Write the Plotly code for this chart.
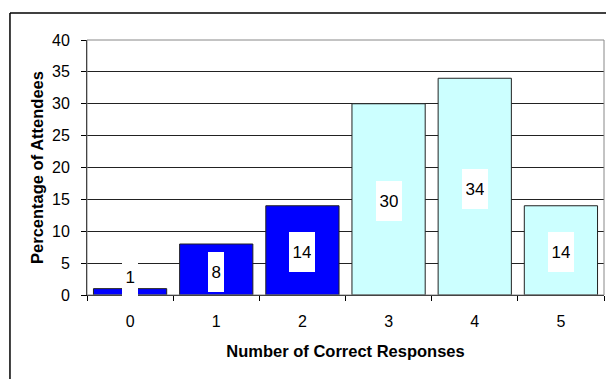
import plotly.graph_objects as go

categories = ["0", "1", "2", "3", "4", "5"]
values = [1, 8, 14, 30, 34, 14]
bar_colors = ["#0000FF", "#0000FF", "#0000FF", "#CCFFFF", "#CCFFFF", "#CCFFFF"]
y_ticks = [0, 5, 10, 15, 20, 25, 30, 35, 40]

FONT = "Liberation Sans, Arial, sans-serif"

fig = go.Figure()
fig.add_trace(go.Bar(
    x=categories, y=values,
    marker=dict(color=bar_colors, line=dict(color="#222222", width=1)),
    hoverinfo="skip",
))

annotations = []
for c, v in zip(categories, values):
    annotations.append(dict(
        x=c, y=max(v / 2, 3.2), xref="x", yref="y", yshift=-2,
        text=str(v), showarrow=False,
        font=dict(family=FONT, size=17, color="black"),
        bgcolor="white", borderpad=3.5, borderwidth=0, height=33,
    ))

shapes = [
    # plot area border (gray top/right)
    dict(type="rect", xref="paper", yref="paper", x0=0, x1=1, y0=0, y1=1,
         line=dict(color="#888888", width=1), layer="above"),
    # outer chart border
    dict(type="line", xref="paper", yref="paper", x0=-0.149, x1=1.2, y0=1.106, y1=1.106,
         line=dict(color="black", width=1.5), layer="above"),
    dict(type="line", xref="paper", yref="paper", x0=-0.149, x1=-0.149, y0=1.106, y1=-0.6,
         line=dict(color="black", width=1.5), layer="above"),
]

fig.update_layout(
    width=606, height=379,
    margin=dict(l=87, r=2, t=40, b=84, autoexpand=False),
    paper_bgcolor="white", plot_bgcolor="white",
    showlegend=False, bargap=0.15,
    font=dict(family=FONT, color="black"),
    annotations=annotations, shapes=shapes,
    xaxis=dict(
        type="category", categoryorder="array", categoryarray=categories,
        showgrid=False, showline=True, linecolor="black", linewidth=1,
        ticks="outside", tickson="boundaries", ticklen=5, tickcolor="black",
        tickfont=dict(size=16, family=FONT), ticklabelstandoff=12,
        title=dict(text="<b>Number of Correct Responses</b>", font=dict(size=16.5, family=FONT), standoff=16),
        automargin=False,
    ),
    yaxis=dict(
        range=[0, 40], tickvals=y_ticks, showgrid=True, gridcolor="#222222", gridwidth=1,
        showline=True, linecolor="black", linewidth=1, zeroline=False,
        ticks="outside", ticklen=5, tickcolor="black",
        tickfont=dict(size=16, family=FONT), ticklabelstandoff=8,
        title=dict(text="<b>Percentage of Attendees</b>", font=dict(size=16.5, family=FONT), standoff=4),
        automargin=False,
    ),
)

fig.write_html("out.html", config={"displayModeBar": False},
               post_script="document.body.style.margin='0';")
